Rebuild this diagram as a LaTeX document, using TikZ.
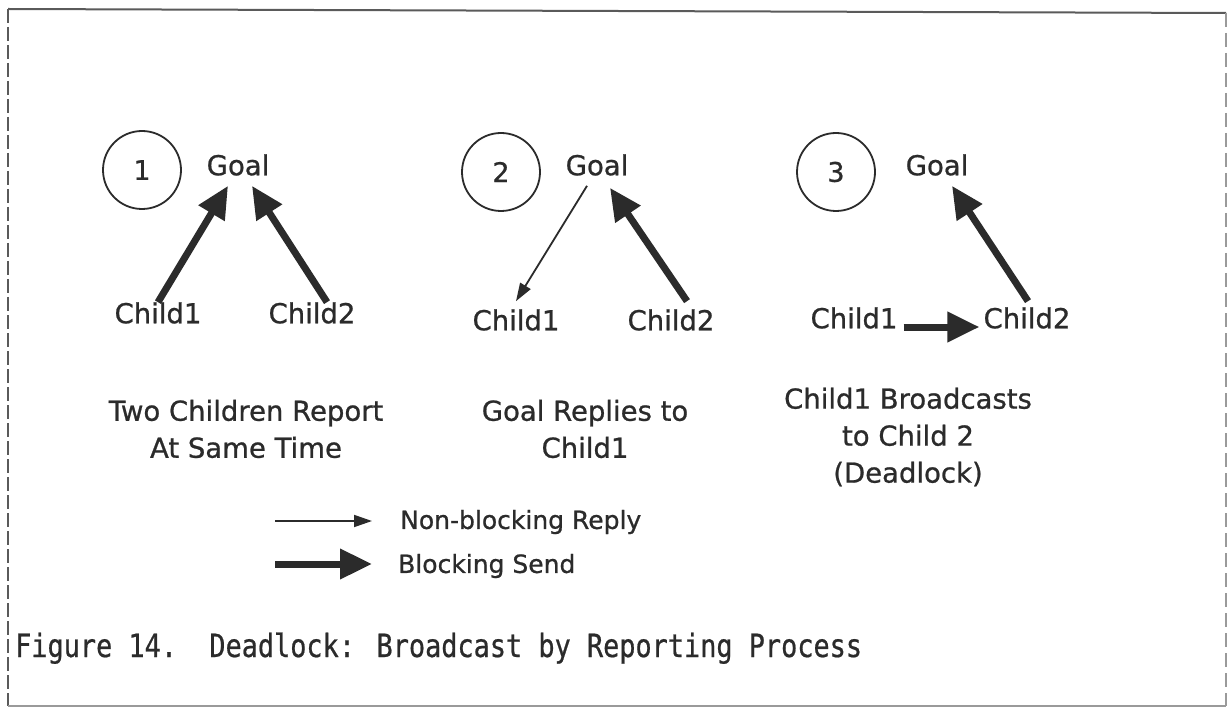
\documentclass[tikz,border=0pt]{standalone}
\usepackage{fontspec}
\usetikzlibrary{arrows.meta,calc}
\setmainfont{DejaVu Sans}
\newfontfamily\lab[FakeBold=0.8]{DejaVu Sans}
\newfontfamily\capfont[FakeStretch=0.84,FakeBold=0.6]{DejaVu Sans Mono}
\definecolor{ink}{HTML}{2B2B2B}
\definecolor{rule}{HTML}{5A5A5A}
\definecolor{faint}{HTML}{9A9A9A}
\tikzset{
  lbl/.style={font=\lab\fontsize{27.5}{37}\selectfont, text=ink, inner sep=0pt, align=center},
  leg/.style={font=\lab\fontsize{25}{30}\selectfont, text=ink, inner sep=0pt, anchor=west},
  stepnum/.style={draw=ink, line width=1.8pt, circle, minimum size=78pt, inner sep=0pt,
                  font=\lab\fontsize{27}{30}\selectfont, text=ink},
  blocking/.style={draw=ink, line width=7pt, -{Triangle[length=32pt,width=29pt]}},
  reply/.style={draw=ink, line width=1.8pt, -{Triangle[length=18pt,width=12pt]}},
}
\begin{document}
\begin{tikzpicture}[x=1pt,y=-1pt]
\useasboundingbox (0,0) rectangle (1230,708);
\fill[white] (0,0) rectangle (1230,708);

% frame
\draw[rule, line width=2pt] (8,9) -- (1226,13);
\draw[rule, line width=1.6pt, dash pattern=on 14pt off 4pt] (8,9) -- (8,706);
\draw[faint, line width=1.2pt] (8,706) -- (1226,706);
\draw[faint, line width=1.4pt, dash pattern=on 14pt off 6pt] (1226,13) -- (1226,706);

% panel 1
\node[stepnum] (n1) at (142,170) {1};
\node[lbl] (g1) at (238,165) {Goal};
\node[lbl] (c1) at (158,313) {Child1};
\node[lbl] (c2) at (312,313) {Child2};
\draw[blocking] (c1.north) -- ($(g1.south)+(-10,10)$);
\draw[blocking] ($(c2.north)+(15,0)$) -- ($(g1.south)+(14,10)$);
\node[lbl] (t1) at (246,429) {Two Children Report\\At Same Time};

% panel 2
\node[stepnum] (n2) at (501,172) {2};
\node[lbl] (g2) at (597,165) {Goal};
\node[lbl] (d1) at (516,320) {Child1};
\node[lbl] (d2) at (671,320) {Child2};
\draw[reply] ($(g2.south)+(-10,10)$) -- ($(d1.north)+(0,-8)$);
\draw[blocking] ($(d2.north)+(16,-8)$) -- ($(g2.south)+(13,12)$);
\node[lbl] (t2) at (585,429) {Goal Replies to\\Child1};

% panel 3
\node[stepnum] (n3) at (836,172) {3};
\node[lbl] (g3) at (937,165) {Goal};
\node[lbl] (e1) at (854,318) {Child1};
\node[lbl] (e2) at (1027,318) {Child2};
\draw[blocking] ($(e1.east)+(6,9)$) -- ($(e2.west)+(-4,9)$);
\draw[blocking] ($(e2.north)+(1,-6)$) -- ($(g3.south)+(15,10)$);
\node[lbl] (t3) at (908,437) {Child1 Broadcasts\\to Child 2\\(Deadlock)};

% legend
\coordinate (la) at (275,521);
\coordinate (lb) at (372,521);
\coordinate (lc) at (275,564);
\coordinate (ld) at (372,564);
\draw[reply] (la) -- (lb);
\draw[blocking] (lc) -- (ld);
\node[leg] (lt1) at (400,522) {Non-blocking Reply};
\node[leg] (lt2) at (398,566) {Blocking Send};

% caption
\node[font=\capfont\fontsize{32}{36}\selectfont, text=ink, inner sep=0pt, anchor=base west]
  (cap) at (15,657) {Figure 14.\ \ Deadlock: Broadcast by Reporting Process};
\end{tikzpicture}
\end{document}
